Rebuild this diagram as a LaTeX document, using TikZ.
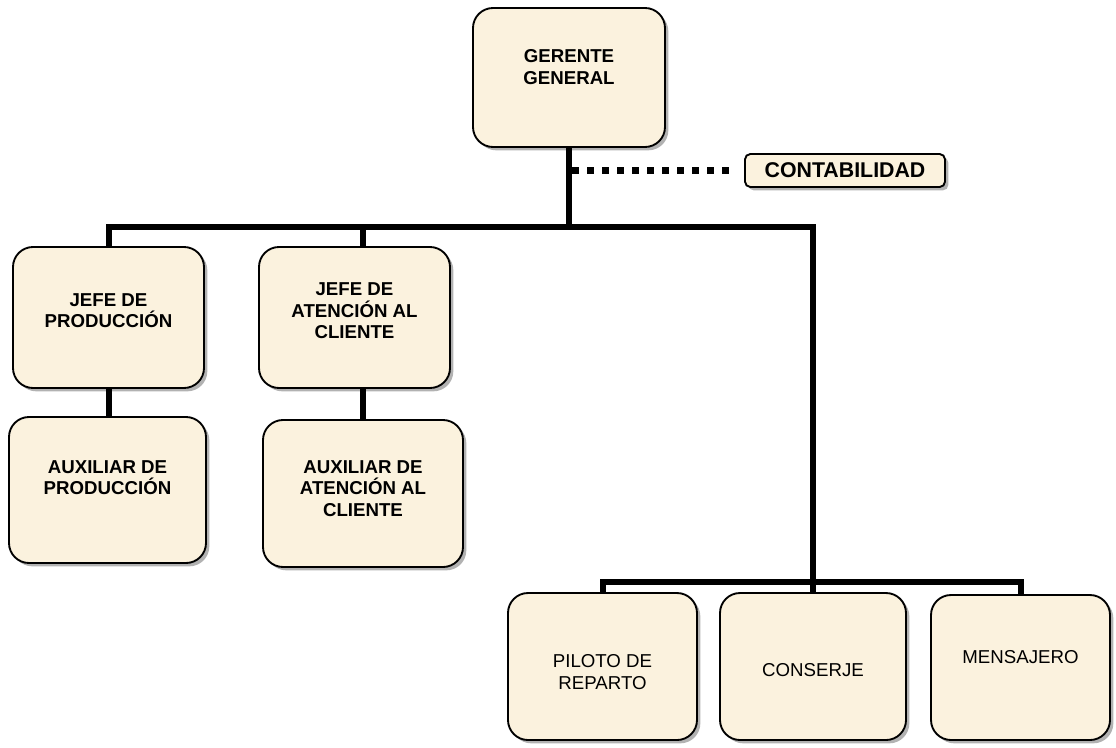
\documentclass[tikz,border=0pt]{standalone}
\usepackage{fontspec}
\setmainfont{Liberation Sans}
\usetikzlibrary{shadows}
\definecolor{cajafondo}{RGB}{251,242,222}
\tikzset{
  caja/.style={draw, line width=1.4pt, rounded corners=15pt, fill=cajafondo, inner sep=0pt,
    drop shadow={shadow xshift=2.5pt, shadow yshift=-2.5pt, fill=black, opacity=.3}},
  rotulo/.style={font=\fontsize{14}{16}\selectfont\bfseries, align=center},
  rotulon/.style={font=\fontsize{14}{16}\selectfont, align=center},
  linea/.style={line width=4.5pt},
}
\begin{document}
\begin{tikzpicture}[x=0.75pt,y=-0.75pt]
      \useasboundingbox (0,0) rectangle (1116,747);
      % cajas
      \node[caja, minimum width=144pt, minimum height=104.25pt,
        label={[rotulo,yshift=7.9pt,name=ggt]center:GERENTE\\GENERAL}] (gg) at (569,77.5) {};
      \node[caja, rounded corners=4pt, minimum width=150pt, minimum height=24.75pt,
        font=\fontsize{16}{18}\selectfont\bfseries] (conta) at (845,170.5) {CONTABILIDAD};
      \node[caja, minimum width=143.25pt, minimum height=105.75pt,
        label={[rotulo,yshift=4.9pt,name=jpt]center:JEFE DE\\PRODUCCIÓN}] (jp) at (108.5,317.5) {};
      \node[caja, minimum width=143.25pt, minimum height=105.75pt,
        label={[rotulo,yshift=4.9pt,name=jat]center:JEFE DE\\ATENCIÓN AL\\CLIENTE}] (ja) at (354.5,317.5) {};
      \node[caja, minimum width=147.75pt, minimum height=109.5pt,
        label={[rotulo,yshift=9.4pt,name=apt]center:AUXILIAR DE\\PRODUCCIÓN}] (ap) at (107.5,490) {};
      \node[caja, minimum width=150pt, minimum height=110.25pt,
        label={[rotulo,yshift=3.75pt,name=aat]center:AUXILIAR DE\\ATENCIÓN AL\\CLIENTE}] (aa) at (363,493.5) {};
      \node[caja, minimum width=141.75pt, minimum height=110.25pt,
        label={[rotulon,yshift=-4.1pt,name=prt]center:PILOTO DE\\REPARTO}] (pr) at (602.5,666.5) {};
      \node[caja, minimum width=139.5pt, minimum height=110.25pt,
        label={[rotulon,yshift=-2.6pt,name=cot]center:CONSERJE}] (co) at (813,666.5) {};
      \node[caja, minimum width=134.25pt, minimum height=108.75pt,
        label={[rotulon,yshift=7.9pt,name=met]center:MENSAJERO}] (me) at (1020.5,667.5) {};
      % lineas
      \coordinate (bus) at (569,227);
      \coordinate (bus2) at (813,582);
      \draw[linea] (gg.south) -- (bus);
      \draw[linea] (jp.north) |- (bus) -| (bus2);
      \draw[linea] (aa.north |- ja.north) -- (aa.north |- bus);
      \draw[linea] (jp.south) -- (jp.south |- ap.north);
      \draw[linea] (aa.north |- ja.south) -- (aa.north);
      \draw[linea] (pr.north) |- (bus2) -| (me.north);
      \draw[linea] (co.north) -- (co.north |- bus2);
      \draw[line width=5pt, dash pattern=on 5pt off 6.25pt]
        ([xshift=2.25pt]bus |- conta.west) -- ([xshift=-9pt]conta.west);
\end{tikzpicture}
\end{document}
